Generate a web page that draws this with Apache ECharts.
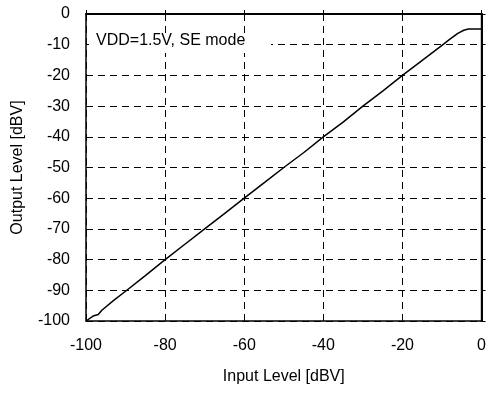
<!DOCTYPE html>
<html>
<head>
<meta charset="utf-8">
<script src="https://cdn.jsdelivr.net/npm/echarts@6/dist/echarts.min.js"></script>
<style>html,body{margin:0;padding:0;background:#fff}#c{width:489px;height:394px}</style>
</head>
<body>
<div id="c"></div>
<script>
const inputLevel = [-100, -98.2, -96.9, -96, -93, -90, -85, -80, -75, -70, -65, -60, -55, -50, -45, -40, -35, -30, -25, -20, -15, -10, -8, -6, -4.5, -3.3, -2, 0];
const outputLevel = [-100, -98.4, -97.9, -96.5, -93.3, -90.3, -85.2, -80, -75, -70, -65, -60, -55, -50, -45.2, -40, -35.2, -30, -25.1, -20, -15.1, -10.2, -8.2, -6.3, -5.3, -4.9, -4.9, -4.9];
const xTicks = { min: -100, max: 0, interval: 20 };
const yTicks = { min: -100, max: 0, interval: 10 };
const xName = 'Input Level [dBV]';
const yName = 'Output Level [dBV]';
const noteText = 'VDD=1.5V, SE mode';

const pts = inputLevel.map((x, i) => [x, outputLevel[i]]);
const font = 'Arial, "Liberation Sans", sans-serif';
const dash = { color: '#000', width: 1, type: [7, 5] };

const chart = echarts.init(document.getElementById('c'), null, { renderer: 'canvas' });
chart.setOption({
  animation: false,
  backgroundColor: '#fff',
  grid: { left: 86, right: 7, top: 14, bottom: 73, show: true, borderColor: '#000', borderWidth: 1.5, backgroundColor: 'transparent' },
  xAxis: {
    type: 'value', min: xTicks.min, max: xTicks.max, interval: xTicks.interval,
    name: xName, nameLocation: 'middle', nameGap: 48,
    nameTextStyle: { fontFamily: font, fontSize: 16, color: '#000' },
    axisLine: { show: true, lineStyle: { color: '#000', width: 2 } },
    axisTick: { show: true, inside: true, length: 4, lineStyle: { color: '#000' } },
    axisLabel: { fontFamily: font, fontSize: 16, color: '#000', margin: 17 },
    splitLine: { show: true, lineStyle: dash }
  },
  yAxis: {
    type: 'value', min: yTicks.min, max: yTicks.max, interval: yTicks.interval,
    name: yName, nameLocation: 'middle', nameGap: 60, nameRotate: 90,
    nameTextStyle: { fontFamily: font, fontSize: 16, color: '#000' },
    axisLine: { show: true, lineStyle: { color: '#000', width: 2 } },
    axisTick: { show: true, inside: true, length: 4, lineStyle: { color: '#000' } },
    axisLabel: { fontFamily: font, fontSize: 16, color: '#000', margin: 16 },
    splitLine: { show: true, lineStyle: dash }
  },
  graphic: [
    { type: 'rect', z: 50, shape: { x: 89, y: 33, width: 182, height: 20 }, style: { fill: '#fff' } },
    { type: 'text', z: 51, x: 96, y: 33, style: { text: noteText, font: '16px Arial, "Liberation Sans", sans-serif', fill: '#000' } }
  ],
  series: [{
    type: 'line', data: pts, showSymbol: false, symbol: 'none',
    lineStyle: { color: '#000', width: 1.5 }, z: 5
  }]
});
</script>
</body>
</html>
